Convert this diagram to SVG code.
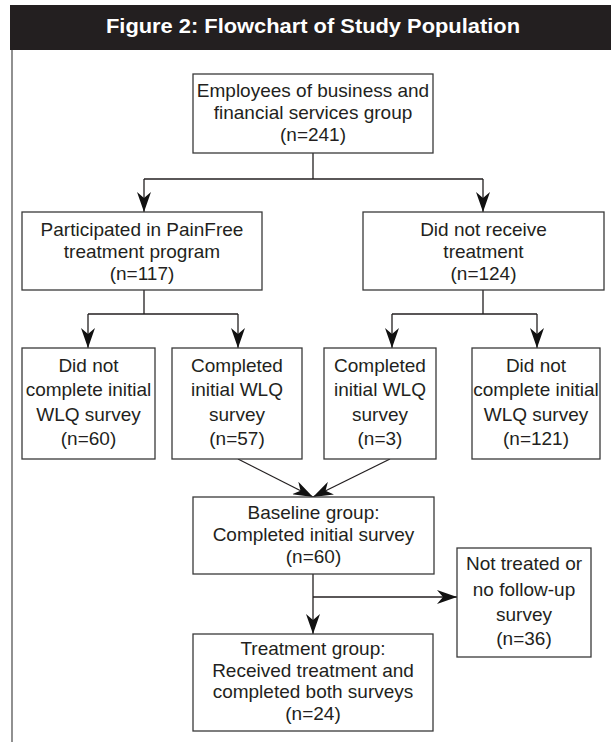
<svg xmlns="http://www.w3.org/2000/svg" width="611" height="742" viewBox="0 0 611 742">
<style>
.box{fill:#fff;stroke:#3a3a3a;stroke-width:1.3}
.t{font-family:"Liberation Sans",Arial,sans-serif;font-size:19px;fill:#231f20;text-anchor:middle}
.c{fill:none;stroke:#231f20;stroke-width:1.3}
.title{font-family:"Liberation Sans",Arial,sans-serif;font-size:21px;font-weight:bold;fill:#fff;text-anchor:middle}
</style>
<defs>
<marker id="ah" markerUnits="userSpaceOnUse" viewBox="0 0 20 14" refX="20" refY="7" markerWidth="20" markerHeight="14" orient="auto">
<path d="M0,0 L20,7 L0,14 L6,7 z" fill="#111"/>
</marker>
</defs>
<rect x="0" y="0" width="611" height="742" fill="#fff"/>
<g id="header">
<rect x="10" y="5" width="601" height="45" fill="#231f20"/>
<text class="title" x="313" y="33" textLength="414" lengthAdjust="spacingAndGlyphs">Figure 2: Flowchart of Study Population</text>
<line x1="12" y1="50" x2="12" y2="742" stroke="#555" stroke-width="1.3"/>
</g>
<g id="connectors">
<path class="c" d="M313,153 V179"/>
<path class="c" d="M144,179 H483"/>
<path class="c" d="M144,179 V212" marker-end="url(#ah)"/>
<path class="c" d="M483,179 V212" marker-end="url(#ah)"/>
<path class="c" d="M144,290 V314 M88,314 H238 M392,314 H537 M483,290 V314"/>
<path class="c" d="M88,314 V348" marker-end="url(#ah)"/>
<path class="c" d="M238,314 V348" marker-end="url(#ah)"/>
<path class="c" d="M392,314 V348" marker-end="url(#ah)"/>
<path class="c" d="M537,314 V348" marker-end="url(#ah)"/>
<path class="c" d="M238,459 L313,497" marker-end="url(#ah)"/>
<path class="c" d="M390,459 L313,497" marker-end="url(#ah)"/>
<path class="c" d="M313,574 V634" marker-end="url(#ah)"/>
<path class="c" d="M313,597 H457" marker-end="url(#ah)"/>
</g>
<g id="n-employees">
<rect class="box" x="193" y="74" width="240" height="79"/>
<text class="t" x="313" y="97">Employees of business and</text>
<text class="t" x="313" y="119">financial services group</text>
<text class="t" x="313" y="141">(n=241)</text>
</g>
<g id="n-participated">
<rect class="box" x="22" y="212" width="240" height="78"/>
<text class="t" x="142" y="236">Participated in PainFree</text>
<text class="t" x="142" y="258">treatment program</text>
<text class="t" x="142" y="280">(n=117)</text>
</g>
<g id="n-notreceive">
<rect class="box" x="363" y="212" width="241" height="78"/>
<text class="t" x="483.5" y="236">Did not receive</text>
<text class="t" x="483.5" y="258">treatment</text>
<text class="t" x="483.5" y="280">(n=124)</text>
</g>
<g id="n-a">
<rect class="box" x="22" y="348" width="133" height="111"/>
<text class="t" x="88.5" y="372">Did not</text>
<text class="t" x="88.5" y="396">complete initial</text>
<text class="t" x="88.5" y="421">WLQ survey</text>
<text class="t" x="88.5" y="445">(n=60)</text>
</g>
<g id="n-b">
<rect class="box" x="172" y="348" width="130" height="111"/>
<text class="t" x="237" y="372">Completed</text>
<text class="t" x="237" y="396">initial WLQ</text>
<text class="t" x="237" y="421">survey</text>
<text class="t" x="237" y="445">(n=57)</text>
</g>
<g id="n-c">
<rect class="box" x="324" y="348" width="112" height="111"/>
<text class="t" x="380" y="372">Completed</text>
<text class="t" x="380" y="396">initial WLQ</text>
<text class="t" x="380" y="421">survey</text>
<text class="t" x="380" y="445">(n=3)</text>
</g>
<g id="n-d">
<rect class="box" x="472" y="348" width="128" height="111"/>
<text class="t" x="536" y="372">Did not</text>
<text class="t" x="536" y="396">complete initial</text>
<text class="t" x="536" y="421">WLQ survey</text>
<text class="t" x="536" y="445">(n=121)</text>
</g>
<g id="n-baseline">
<rect class="box" x="193" y="497" width="241" height="77"/>
<text class="t" x="313.5" y="519">Baseline group:</text>
<text class="t" x="313.5" y="541">Completed initial survey</text>
<text class="t" x="313.5" y="563">(n=60)</text>
</g>
<g id="n-nottreated">
<rect class="box" x="457" y="548" width="134" height="109"/>
<text class="t" x="524" y="570">Not treated or</text>
<text class="t" x="524" y="596">no follow-up</text>
<text class="t" x="524" y="621">survey</text>
<text class="t" x="524" y="645">(n=36)</text>
</g>
<g id="n-treatment">
<rect class="box" x="193" y="634" width="240" height="97"/>
<text class="t" x="313" y="655">Treatment group:</text>
<text class="t" x="313" y="677">Received treatment and</text>
<text class="t" x="313" y="698">completed both surveys</text>
<text class="t" x="313" y="720">(n=24)</text>
</g>
</svg>
